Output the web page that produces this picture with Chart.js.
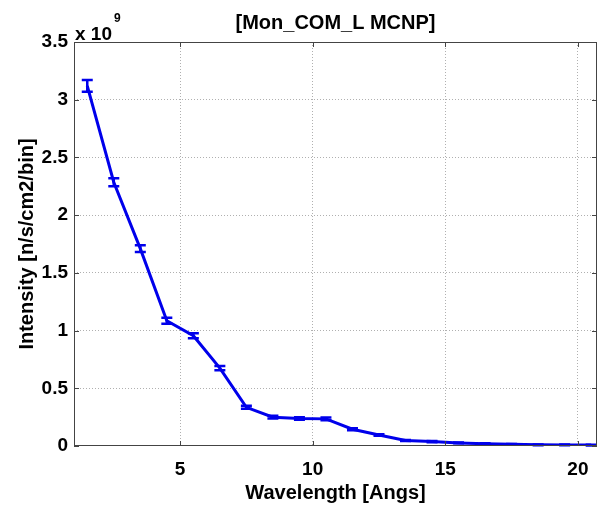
<!DOCTYPE html>
<html>
<head>
<meta charset="utf-8">
<script src="https://cdn.jsdelivr.net/npm/chart.js@4/dist/chart.umd.min.js"></script>
<style>
  html, body { margin: 0; padding: 0; background: #fff; }
  #wrap { width: 604px; height: 509px; }
</style>
</head>
<body>
<div id="wrap"><canvas id="cv"></canvas></div>
<script>
"use strict"

// wavelength bin centres [Angs]
const wavelength = [1.5, 2.5, 3.5, 4.5, 5.5, 6.5, 7.5, 8.5, 9.5, 10.5,
                    11.5, 12.5, 13.5, 14.5, 15.5, 16.5, 17.5, 18.5, 19.5, 20.5];
// intensity in units of 1e9 n/s/cm2/bin
const intensity = [3.12, 2.285, 1.71, 1.085, 0.955, 0.675, 0.335, 0.25, 0.238, 0.235,
                   0.145, 0.095, 0.048, 0.038, 0.027, 0.02, 0.015, 0.01, 0.009, 0.008];
// statistical error (same units)
const intensityErr = [0.05, 0.035, 0.03, 0.025, 0.022, 0.018, 0.013, 0.011, 0.011, 0.011,
                      0.008, 0.007, 0.005, 0.005, 0.004, 0.004, 0.003, 0.003, 0.003, 0.003];
const xTicks = [5, 10, 15, 20];
const yTicks = [0, 0.5, 1, 1.5, 2, 2.5, 3, 3.5];

const FONT = "'Liberation Sans', Arial, Helvetica, sans-serif";
const BLUE = 'rgb(0,0,235)';

// error bars, box frame and the "x 10^9" multiplier
const extras = {
    id: 'extras',
    afterDatasetsDraw(chart) {
        const ctx = chart.ctx;
        const xs = chart.scales.x, ys = chart.scales.y;
        ctx.save();
        ctx.strokeStyle = BLUE;
        ctx.lineWidth = 2.5;
        for (let i = 0; i < wavelength.length; i++) {
            const px = xs.getPixelForValue(wavelength[i]);
            const top = ys.getPixelForValue(intensity[i] + intensityErr[i]);
            const bot = ys.getPixelForValue(intensity[i] - intensityErr[i]);
            ctx.beginPath();
            ctx.moveTo(px, top); ctx.lineTo(px, bot);
            ctx.moveTo(px - 5.5, top); ctx.lineTo(px + 5.5, top);
            ctx.moveTo(px - 5.5, bot); ctx.lineTo(px + 5.5, bot);
            ctx.stroke();
        }
        ctx.restore();
    },
    afterDraw(chart) {
        const ctx = chart.ctx;
        const a = chart.chartArea;
        const xs = chart.scales.x, ys = chart.scales.y;
        ctx.save();
        // box
        ctx.strokeStyle = '#444';
        ctx.lineWidth = 1;
        ctx.strokeRect(a.left + 0.5, a.top + 0.5, a.right - a.left - 1, a.bottom - a.top - 1);
        // inward tick marks
        ctx.beginPath();
        xTicks.forEach(v => {
            const px = Math.round(xs.getPixelForValue(v)) + 0.5;
            ctx.moveTo(px, a.bottom); ctx.lineTo(px, a.bottom - 5);
            ctx.moveTo(px, a.top); ctx.lineTo(px, a.top + 5);
        });
        yTicks.forEach(v => {
            const py = Math.round(ys.getPixelForValue(v)) + 0.5;
            ctx.moveTo(a.left, py); ctx.lineTo(a.left + 5, py);
            ctx.moveTo(a.right, py); ctx.lineTo(a.right - 5, py);
        });
        ctx.stroke();
        // exponent label
        ctx.fillStyle = '#000';
        ctx.textBaseline = 'alphabetic';
        ctx.font = 'bold 19px ' + FONT;
        ctx.fillText('x 10', a.left + 1, a.top - 2);
        const w = ctx.measureText('x 10').width;
        ctx.font = 'bold 12px ' + FONT;
        ctx.fillText('9', a.left + 3 + w, a.top - 20);
        ctx.restore();
    }
};

new Chart(document.getElementById('cv'), {
    type: 'line',
    data: {
        datasets: [{
            data: wavelength.map((x, i) => ({x: x, y: intensity[i]})),
            borderColor: BLUE,
            borderWidth: 3,
            pointRadius: 0,
            tension: 0,
            fill: false
        }]
    },
    options: {
        responsive: true,
        maintainAspectRatio: false,
        animation: false,
        layout: {padding: {top: 0, right: 7, left: 0, bottom: 0}},
        plugins: {
            legend: {display: false},
            tooltip: {enabled: false},
            title: {
                display: true,
                text: '[Mon_COM_L MCNP]',
                fullSize: false,
                color: '#000',
                font: {family: FONT, size: 20, weight: 'bold', lineHeight: 1.2},
                padding: {top: 11, bottom: 7}
            }
        },
        scales: {
            x: {
                type: 'linear',
                min: 1,
                max: 20.72,
                afterBuildTicks: s => { s.ticks = xTicks.map(v => ({value: v})); },
                afterFit: s => { s.height = 63; },
                grid: {color: '#b0b0b0', drawTicks: false, lineWidth: 1},
                border: {display: false, dash: [1, 2]},
                ticks: {color: '#000', padding: 12, font: {family: FONT, size: 19, weight: 'bold'}, maxRotation: 0},
                title: {
                    display: true,
                    text: 'Wavelength [Angs]',
                    color: '#000',
                    font: {family: FONT, size: 20, weight: 'bold', lineHeight: 1.2},
                    padding: {top: 4, bottom: 4}
                }
            },
            y: {
                min: 0,
                max: 3.5,
                afterBuildTicks: s => { s.ticks = yTicks.map(v => ({value: v})); },
                afterFit: s => { s.width = 74; },
                grid: {
                    color: ctx => (ctx.tick && (ctx.tick.value === 0 || ctx.tick.value === 3.5)) ? 'rgba(0,0,0,0)' : '#b0b0b0',
                    drawTicks: false, lineWidth: 1
                },
                border: {display: false, dash: [1, 2]},
                ticks: {
                    color: '#000', padding: 6,
                    font: {family: FONT, size: 19, weight: 'bold'},
                    callback: v => String(v)
                },
                title: {
                    display: true,
                    text: 'Intensity [n/s/cm2/bin]',
                    color: '#000',
                    font: {family: FONT, size: 20, weight: 'bold', lineHeight: 1.2},
                    padding: {top: 15, bottom: 0}
                }
            }
        }
    },
    plugins: [extras]
});
</script>
</body>
</html>
